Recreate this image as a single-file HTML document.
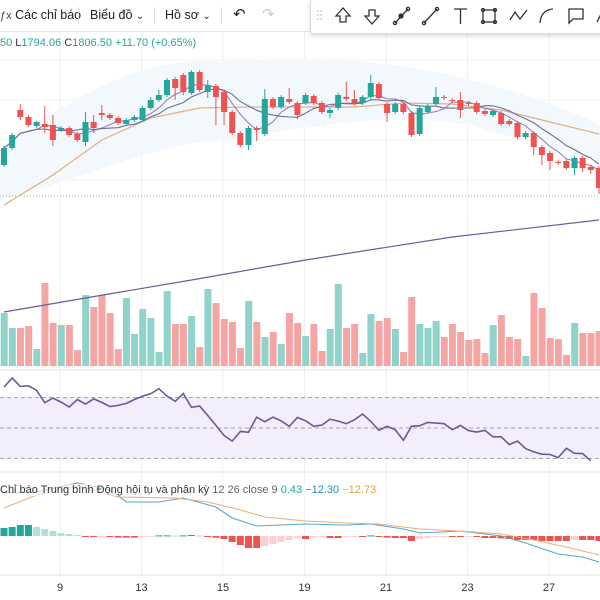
<!DOCTYPE html>
<html><head><meta charset="utf-8"><style>
body{margin:0;width:600px;height:600px;overflow:hidden;background:#fff;font-family:"Liberation Sans","Noto Sans CJK SC",sans-serif;}
#wrap{position:relative;width:600px;height:600px;}
svg{position:absolute;left:0;top:0;}
.tb{position:absolute;top:0;font-size:12.5px;color:#222;line-height:30px;}
</style></head><body>
<div id="wrap">
<svg id="chart" width="600" height="600"></svg>
<div style="position:absolute;left:0;top:0;width:600px;height:31px;background:#fff;border-bottom:1px solid #e6e6e6;"></div>
<div class="tb" style="left:0;"><span style="font-size:11px;color:#444">ƒx</span> Các chỉ báo</div>
<div style="position:absolute;left:78px;top:7px;width:1px;height:17px;background:#e0e0e0"></div>
<div class="tb" style="left:90px;">Biểu đồ <span style="font-size:10px">⌄</span></div>
<div style="position:absolute;left:154px;top:7px;width:1px;height:17px;background:#e0e0e0"></div>
<div class="tb" style="left:165px;">Hồ sơ <span style="font-size:10px">⌄</span></div>
<div style="position:absolute;left:221px;top:7px;width:1px;height:17px;background:#e0e0e0"></div>
<div class="tb" style="left:233px;font-size:15px;">↶</div>
<div class="tb" style="left:262px;font-size:15px;color:#ccc;">↷</div>
<div style="position:absolute;left:310px;top:-1px;width:300px;height:33px;background:#fff;border:1px solid #ddd;border-radius:3px;box-shadow:0 2px 4px rgba(0,0,0,0.15);"></div>
<svg width="600" height="34" style="stroke:#333;fill:none;stroke-width:1.3">
<g stroke="#ccc"><line x1="318" y1="10" x2="318" y2="22" stroke-dasharray="2 2"/><line x1="321" y1="10" x2="321" y2="22" stroke-dasharray="2 2"/></g>
<path d="M343 8 L336 16 L340 16 L340 22 L346 22 L346 16 L350 16 Z"/>
<path d="M372 24 L365 16 L369 16 L369 10 L375 10 L375 16 L379 16 Z"/>
<g><line x1="395" y1="23" x2="408" y2="9"/><circle cx="395" cy="23" r="1.6"/><circle cx="408" cy="9" r="1.6"/><circle cx="401" cy="16" r="2" fill="#333"/></g>
<g><line x1="424" y1="23" x2="437" y2="9"/><circle cx="424" cy="23" r="1.6"/><circle cx="437" cy="9" r="1.6"/></g>
<path d="M454 9 H467 M460.5 9 V24"/>
<g><rect x="483" y="10" width="12" height="12"/><circle cx="483" cy="10" r="1.5"/><circle cx="495" cy="10" r="1.5"/><circle cx="483" cy="22" r="1.5"/><circle cx="495" cy="22" r="1.5"/></g>
<path d="M510 20 L515 12 L520 19 L527 10"/>
<path d="M540 23 Q541 10 553 9"/>
<path d="M569 9 H583 V19 H573 L569 23 Z"/>
<path d="M597 22 L603 10"/>
</svg>
<div style="position:absolute;left:0;top:37px;font-size:11px;color:#26a69a;white-space:nowrap">50 <span style="color:#333">L</span>1794.06 <span style="color:#333">C</span>1806.50 +11.70 (+0.65%)</div>
<div style="position:absolute;left:0;top:484px;font-size:11px;color:#333;white-space:nowrap;background:rgba(255,255,255,0.6)">Chỉ báo Trung bình Động hội tụ và phân kỳ <span style="color:#666">12 26 close 9</span> <span style="color:#26a69a">0.43</span> <span style="color:#2196a8">−12.30</span> <span style="color:#e0a040">−12.73</span></div>
</div>
<script>
// ---- data ----
const opens =[1835,1852,1890,1883,1874,1876,1875,1870,1872,1866,1858,1878,1887,1885,1882,1876,1880,1880,1892,1900,1905,1921,1925,1907,1928,1908,1914,1908,1888,1867,1855,1872,1866,1901,1893,1901,1897,1897,1904,1897,1887,1892,1903,1901,1897,1903,1916,1896,1888,1896,1887,1866,1888,1896,1903,1900,1900,1897,1897,1889,1885,1887,1879,1877,1863,1867,1853,1847,1838,1839,1832,1842,1833,1832];
const closes=[1852,1865,1883,1875,1878,1873,1860,1872,1865,1860,1878,1872,1885,1882,1877,1880,1883,1892,1900,1905,1920,1912,1908,1928,1910,1915,1903,1888,1867,1855,1872,1870,1901,1893,1903,1898,1885,1905,1897,1888,1890,1905,1901,1897,1903,1917,1902,1887,1896,1888,1865,1892,1894,1903,1902,1899,1890,1896,1888,1886,1889,1876,1876,1863,1867,1853,1845,1839,1837,1832,1842,1832,1830,1812];
const highs =[1854,1867,1896,1885,1879,1894,1885,1874,1874,1868,1888,1885,1895,1887,1884,1882,1885,1894,1903,1910,1922,1923,1927,1930,1930,1920,1916,1910,1890,1869,1874,1874,1911,1903,1905,1912,1899,1907,1906,1899,1892,1907,1918,1910,1905,1925,1918,1898,1898,1898,1889,1894,1896,1913,1905,1902,1908,1899,1899,1891,1891,1889,1881,1879,1869,1869,1855,1849,1840,1841,1844,1844,1835,1834];
const lows  =[1833,1850,1880,1873,1872,1867,1854,1868,1863,1858,1854,1867,1880,1880,1875,1874,1878,1878,1890,1898,1903,1900,1905,1905,1908,1902,1875,1875,1865,1853,1850,1859,1864,1891,1891,1896,1881,1895,1895,1886,1882,1890,1899,1895,1895,1901,1900,1878,1886,1886,1863,1864,1886,1894,1900,1897,1882,1894,1886,1884,1883,1874,1874,1861,1861,1845,1835,1830,1835,1830,1825,1828,1826,1806];
const volumes=[53,38,38,40,17,83,43,41,41,16,71,59,71,53,17,68,32,57,48,14,75,42,42,50,19,77,63,47,44,18,65,44,29,34,22,53,43,30,42,15,37,82,38,42,13,52,45,48,37,14,69,42,38,45,29,42,34,26,27,13,41,51,29,27,10,73,58,28,27,11,43,33,33,35];
const volumeDirs="ggrrgrrgrrgrrrrggggggrrgrgrrrrgrgrgrrgrrggrrggrrgrrgggrrrrrrgrrrgrrrrrgrrr";
const longMaIdx=[0,10,23,37,55,73];
const longMaVals=[1688,1702,1720,1740,1763,1780];
const ma20Idx=[0,6,12,18,24,30,37,43,49,55,61,67,73];
const ma20Vals=[1795,1825,1860,1882,1892,1893,1893,1893,1897,1896,1890,1878,1866];
const rsiVals=[76.9,82.7,77.3,77.7,74.7,66.6,69.6,67.0,63.8,68.7,65.7,69.1,66.8,64.0,64.8,66.1,68.7,70.9,72.4,75.8,70.9,67.5,72.6,63.5,64.4,58.2,51.7,45.1,41.4,47.8,47.2,57.1,54.1,57.1,54.7,51.1,56.9,54.7,51.1,51.9,55.8,54.5,52.8,55.4,59.2,54.3,48.5,51.1,48.9,42.0,51.1,51.5,53.7,53.2,52.8,48.9,51.7,48.3,47.4,48.5,44.2,44.2,39.2,41.4,36.5,34.3,32.8,32.6,30.6,36.7,33.4,33.2,28.5];
const rsiLevels=[70,50,30];
const macdIdx=[0,4,9,13,15,19,22,26,28,31,37,42,45,49,51,56,61,64,68,71,73];
const macdVals=[21.5,22,26.5,23,17,17,19,14.5,9,5,6,5.5,6,3.5,1.5,2.5,0,-3.5,-9,-10.5,-13];
const signalIdx=[0,4,9,14,21,25,29,32,37,42,46,51,56,61,65,69,73];
const signalVals=[14,20.5,25,19.5,19,17,13,9.5,7.5,6.5,6,3.5,2.5,1,-2,-5.5,-9.5];
const histVals=[4,4.5,5.5,5.5,4.5,3.5,2.5,1.5,1,0.5,-0.3,-0.5,-0.3,-0.5,-0.8,-0.8,-0.8,-0.3,-0.2,0.3,0.3,0.2,0.3,0.5,0.3,-0.3,-0.8,-1.5,-3,-4.5,-6,-6,-5,-4,-3,-2,-1.2,-1.5,-0.8,-0.5,-1,-1,-0.5,-0.3,-0.5,0.3,-0.3,-0.8,-1,-1,-2.5,-1.5,-1,-0.5,-0.3,-0.3,-0.5,-0.3,-0.5,-1,-1,-1.2,-1.5,-2,-2,-2,-2.5,-2.5,-2.5,-2.5,-2,-2,-2,-2.5];
const dayLabels=["9","13","15","19","21","23","27"];
const dayLabelIdx=[7,17,27,37,47,57,67];

// ---- scales ----
const NS="http://www.w3.org/2000/svg";
const svg=document.getElementById('chart');
const X=i=>4+i*8.15;
const PY=p=>2000-p;
const VY=v=>366-v;
const RY=r=>428-(r-50)*1.525;
const MY=v=>536-v*2;
function el(tag,attrs,parent){const e=document.createElementNS(NS,tag);for(const k in attrs)e.setAttribute(k,attrs[k]);(parent||svg).appendChild(e);return e;}
function sma(n){return closes.map((c,i)=>{const s=Math.max(0,i-n+1);let t=0;for(let j=s;j<=i;j++)t+=closes[j];return t/(i-s+1);});}
function sparsePath(idx,vals,yf){return idx.map((ix,k)=>(k?'L':'M')+X(ix).toFixed(1)+' '+yf(vals[k]).toFixed(1)).join(' ');}

// grid
dayLabelIdx.forEach((ix,k)=>{
  const g=el('line',{x1:X(ix)-1,x2:X(ix)-1,y1:31,y2:575,stroke:'#f0f0f0'});
  
  
  const t=el('text',{x:X(ix)-1,y:591,'text-anchor':'middle','font-size':'11',fill:'#333'});
  t.textContent=dayLabels[k];
  
  
});
[60,100,140,180].forEach(y=>{const g=el('line',{x1:0,x2:600,y1:y,y2:y,stroke:'#f3f3f3'});});
[370,472,575].forEach(y=>{const s=el('line',{x1:0,x2:600,y1:y,y2:y,stroke:'#e3e3e3'});});

// cloud band
const cloud=el('path',{d:'M0 150 C80 90 150 55 220 62 C300 55 400 60 470 80 C530 95 570 110 600 125 L600 160 C560 150 520 140 470 125 C380 110 300 130 220 140 C150 145 80 180 0 200 Z',fill:'#f3f8fc'});



const pl=el('line',{x1:0,x2:600,y1:196,y2:196,stroke:'#7fb8b0','stroke-dasharray':'1 2'});



// volume
volumes.forEach((v,i)=>{
  const r=el('rect',{x:X(i)-3.3,y:VY(v),width:7,height:v,fill:volumeDirs[i]==='g'?'#8fd3ca':'#f6a5a5'});
  
  
});
const lm=el('path',{d:sparsePath(longMaIdx,longMaVals,PY),fill:'none',stroke:'#6a5c9a','stroke-width':1.2});


const m20=el('path',{d:sparsePath(ma20Idx,ma20Vals,PY),fill:'none',stroke:'#e0b080','stroke-width':1.2});


[[5,'#9c7cc0'],[9,'#6c6f9a']].forEach(([n,c])=>{
  const v=sma(n);
  const p=el('path',{d:v.map((y,i)=>(i?'L':'M')+X(i).toFixed(1)+' '+PY(y).toFixed(1)).join(' '),fill:'none',stroke:c,'stroke-width':1.1});
  
  
});
opens.forEach((o,i)=>{
  const c=closes[i],up=c>=o,col=up?'#26a69a':'#ef5350';
  const w=el('line',{x1:X(i),x2:X(i),y1:PY(highs[i]),y2:PY(lows[i]),stroke:col,'stroke-width':1});
  
  
  const b=el('rect',{x:X(i)-3,y:PY(Math.max(o,c)),width:6,height:Math.max(1,Math.abs(c-o)),fill:col});
  
  
});

// RSI
const band=el('rect',{x:0,y:RY(70),width:600,height:RY(30)-RY(70),fill:'#f2eefb'});


rsiLevels.forEach(l=>{const d=el('line',{x1:0,x2:600,y1:RY(l),y2:RY(l),stroke:'#888','stroke-dasharray':'4 3','stroke-width':0.8});});
const rsi=el('path',{d:rsiVals.map((r,i)=>(i?'L':'M')+X(i).toFixed(1)+' '+RY(r).toFixed(1)).join(' '),fill:'none',stroke:'#6b5b95','stroke-width':1.6});



// MACD
histVals.forEach((h,i)=>{
  const prev=i?histVals[i-1]:h;
  let col;
  if(h>=0) col=h>=prev?'#26a69a':'#b2dfdb'; else col=h<=prev?'#ef5350':'#ffcdd2';
  const r=el('rect',{x:X(i)-3.5,y:h>=0?MY(h):MY(0),width:7,height:Math.max(1,Math.abs(h)*2),fill:col});
  
  
});
const ml=el('path',{d:sparsePath(macdIdx,macdVals,MY),fill:'none',stroke:'#5aa9c4','stroke-width':1.1});


const sl=el('path',{d:sparsePath(signalIdx,signalVals,MY),fill:'none',stroke:'#e8b07a','stroke-width':1.1});


</script>
</body></html>
